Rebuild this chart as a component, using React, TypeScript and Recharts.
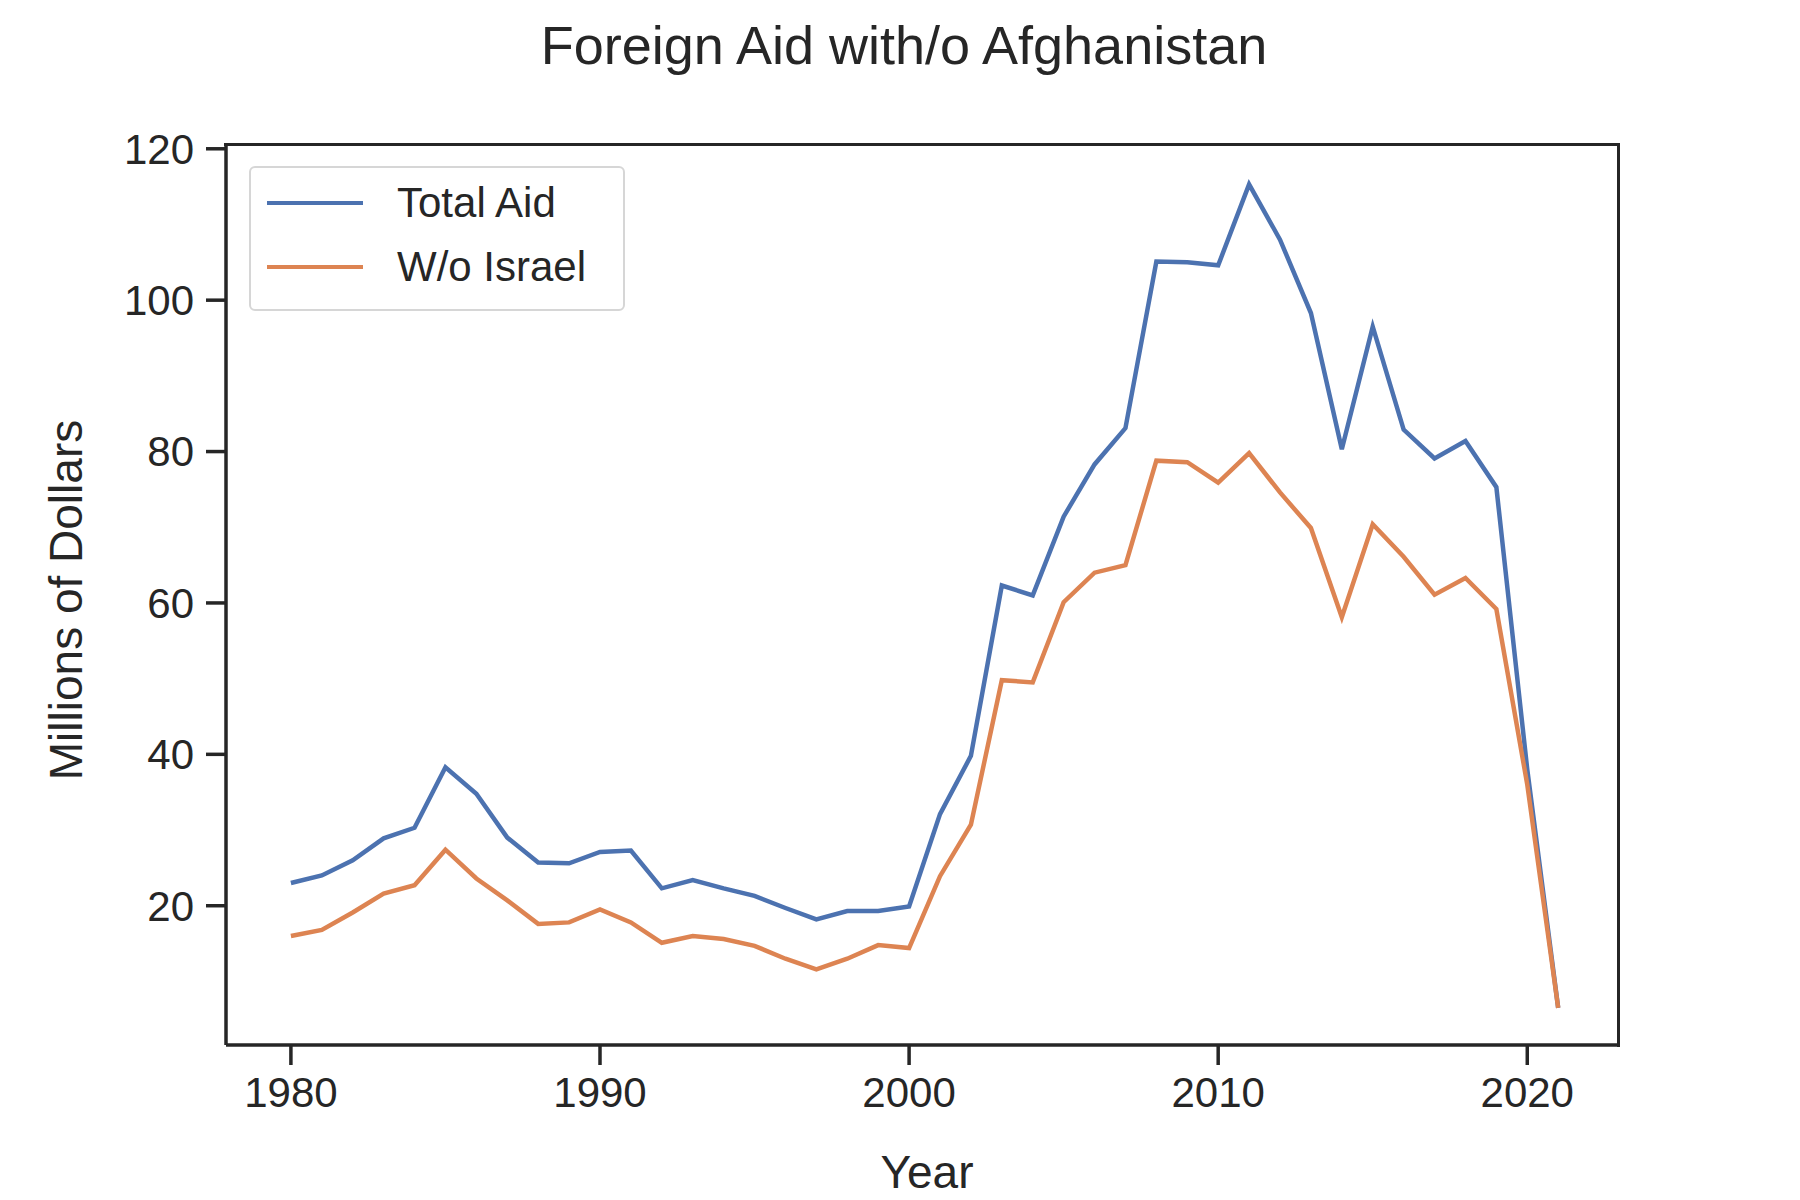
import { LineChart, Line, XAxis, YAxis } from 'recharts';

const years = [
  1980, 1981, 1982, 1983, 1984, 1985, 1986, 1987, 1988, 1989, 1990, 1991, 1992, 1993,
  1994, 1995, 1996, 1997, 1998, 1999, 2000, 2001, 2002, 2003, 2004, 2005, 2006, 2007,
  2008, 2009, 2010, 2011, 2012, 2013, 2014, 2015, 2016, 2017, 2018, 2019, 2020, 2021,
];
const totalAid = [
  23, 24, 26, 28.9, 30.3, 38.3, 34.8, 29, 25.7, 25.6, 27.1, 27.3, 22.3, 23.4,
  22.3, 21.3, 19.7, 18.2, 19.3, 19.3, 19.9, 32.1, 39.8, 62.3, 61, 71.4, 78.3, 83.1,
  105.1, 105, 104.6, 115.3, 108, 98.3, 80.3, 96.5, 82.9, 79.1, 81.4, 75.3, 38, 6.5,
];
const withoutIsrael = [
  16, 16.8, 19.1, 21.6, 22.7, 27.4, 23.6, 20.7, 17.6, 17.8, 19.5, 17.8, 15.1, 16,
  15.6, 14.7, 13, 11.6, 13, 14.8, 14.4, 23.9, 30.7, 49.8, 49.5, 60.1, 64, 65,
  78.8, 78.6, 75.9, 79.8, 74.6, 69.9, 58.1, 70.4, 66.1, 61.1, 63.3, 59.2, 36, 6.5,
];
const xTicks = [1980, 1990, 2000, 2010, 2020];
const yTicks = [20, 40, 60, 80, 100, 120];

const data = years.map((year, i) => ({ year, total: totalAid[i], noIsrael: withoutIsrael[i] }));

const FONT = "'Liberation Sans', Arial, sans-serif";
const INK = '#262626';
const BLUE = '#4c72b0';
const ORANGE = '#dd8452';
const tick = { fill: INK, fontSize: 42, fontFamily: FONT };
const axisLine = { stroke: INK, strokeWidth: 3.5 };
const tickLine = { stroke: INK, strokeWidth: 3.5 };

export default function App() {
  return (
    <div style={{ position: 'absolute', left: 0, top: 0, width: 1800, height: 1200, background: '#fff', fontFamily: FONT, color: INK }}>
      <LineChart width={1800} height={1200} data={data} margin={{ top: 145, right: 180, bottom: 0, left: 0 }}>
        <XAxis
          dataKey="year"
          type="number"
          domain={[1977.9, 2023]}
          ticks={xTicks}
          tick={tick}
          tickSize={20}
          tickMargin={12}
          axisLine={axisLine}
          tickLine={tickLine}
          height={155}
        />
        <YAxis
          type="number"
          domain={[1.6, 120.5]}
          ticks={yTicks}
          tick={tick}
          tickSize={20}
          tickMargin={12}
          axisLine={axisLine}
          tickLine={tickLine}
          width={226}
          allowDataOverflow
        />
        <Line dataKey="total" stroke={BLUE} strokeWidth={4.5} dot={false} isAnimationActive={false} />
        <Line dataKey="noIsrael" stroke={ORANGE} strokeWidth={4.5} dot={false} isAnimationActive={false} />
      </LineChart>

      {/* frame: top and right spines */}
      <div style={{ position: 'absolute', left: 224, top: 143, width: 1574 - 178, height: 1047 - 143, borderTop: `3.5px solid ${INK}`, borderRight: `3.5px solid ${INK}`, boxSizing: 'border-box', pointerEvents: 'none' }} />

      <div style={{ position: 'absolute', left: 0, width: 1808, top: 14, textAlign: 'center', fontSize: 54 }}>
        Foreign Aid with/o Afghanistan
      </div>
      <div style={{ position: 'absolute', left: 927 - 200, width: 400, top: 1145, textAlign: 'center', fontSize: 46 }}>Year</div>
      <div
        style={{
          position: 'absolute', left: 66 - 300, top: 600 - 28, width: 600, textAlign: 'center',
          fontSize: 46, transform: 'rotate(-90deg)', transformOrigin: '50% 50%', lineHeight: '56px',
        }}
      >
        Millions of Dollars
      </div>

      <div
        style={{
          position: 'absolute', left: 249, top: 166, width: 372, height: 141,
          border: '2px solid #d6d6d6', borderRadius: 6, background: 'rgba(255,255,255,0.8)', fontSize: 42,
        }}
      >
        {[
          { label: 'Total Aid', color: BLUE, y: 12 },
          { label: 'W/o Israel', color: ORANGE, y: 76 },
        ].map((e) => (
          <div key={e.label} style={{ position: 'absolute', left: 16, top: e.y, display: 'flex', alignItems: 'center', height: 46 }}>
            <span style={{ width: 96, height: 4.5, background: e.color, display: 'inline-block' }} />
            <span style={{ marginLeft: 34 }}>{e.label}</span>
          </div>
        ))}
      </div>
    </div>
  );
}
